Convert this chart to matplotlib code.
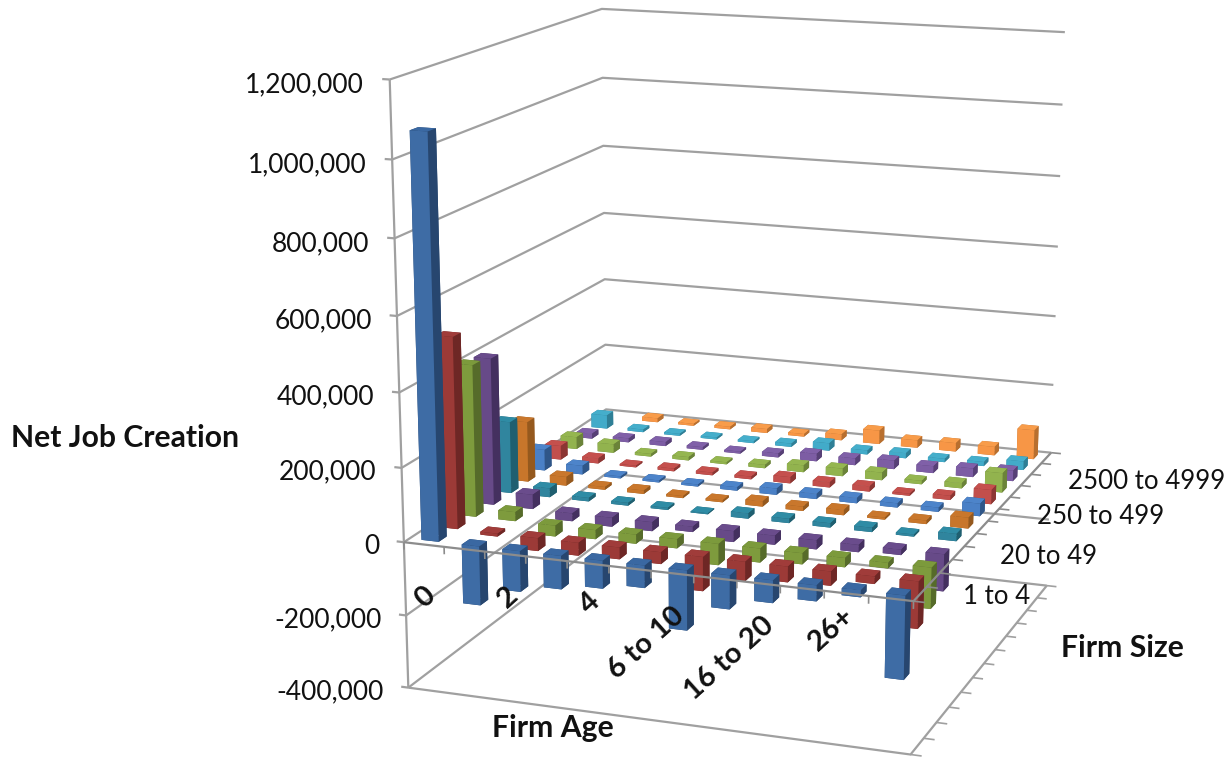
import numpy as np
import matplotlib
matplotlib.use("Agg")
import matplotlib.pyplot as plt
from mpl_toolkits.mplot3d.art3d import Line3DCollection

plt.rcParams["font.family"] = ["Lato", "DejaVu Sans"]

W, H = 1228, 757

# Net job creation in thousands; one list per firm-age class, one entry per firm-size class.
age_labels = ["0", "1", "2", "3", "4", "5", "6 to 10", "11 to 15", "16 to 20", "21 to 25", "26+", "Left censored"]
size_labels = ["1 to 4", "5 to 9", "10 to 19", "20 to 49", "50 to 99", "100 to 249", "250 to 499",
               "500 to 999", "1000 to 2499", "2500 to 4999", "5000 to 9999", "10000+"]
age_0 = [1070, 518, 415, 405, 200, 170, 60, 40, 35, 15, 40, 0]
age_1 = [-160, -8, 25, 40, 25, 25, 25, 15, 25, 12, 8, 12]
age_2 = [-110, -35, -30, -22, 10, 8, 6, 5, 8, 12, 6, 6]
age_3 = [-90, -35, -25, -25, 8, 10, 6, 8, 10, 8, 6, 8]
age_4 = [-75, -32, -25, -25, 6, 6, 6, 8, 6, 6, 6, 12]
age_5 = [-60, -32, -25, -15, 3, 6, 10, 8, 10, 12, 10, 8]
age_6 = [-160, -92, -58, -30, 15, 15, 18, 18, 20, 22, 22, 18]
age_7 = [-90, -52, -38, -25, 12, 12, 15, 15, 22, 20, 12, 40]
age_8 = [-60, -42, -30, -25, 12, 15, 15, 15, 22, 25, 15, 22]
age_9 = [-42, -38, -25, -20, 12, 6, 12, 6, 10, 20, 10, 25]
age_10 = [-18, -20, -15, -15, 6, 10, 12, 12, 15, 25, 12, 25]
age_11 = [-220, -125, -110, -100, 20, 30, 35, 40, 55, 30, 25, 85]
job_creation = np.array([age_0, age_1, age_2, age_3, age_4, age_5, age_6, age_7,
                         age_8, age_9, age_10, age_11]) * 1000.0

value_ticks = [-400000, -200000, 0, 200000, 400000, 600000, 800000, 1000000, 1200000]

# Front, right-hand and top face colours for each size class.
front_colors = ["#3E6CA5", "#9C3A37", "#7E9B3D", "#674A88", "#30859E", "#C8762B",
                "#4A80C6", "#C24F4C", "#92B34E", "#7D5DA4", "#42ABC9", "#F79646"]
side_colors = ["#27466F", "#6E2725", "#566B2A", "#44305F", "#1F5F70", "#95591E",
               "#2F5688", "#8C3633", "#6B8339", "#574076", "#2F7F96", "#B86F2F"]
top_colors = ["#3A68A2", "#A03C3A", "#7C9A3C", "#6A4C8C", "#2F8CA5", "#C9772C",
              "#4D84CA", "#C5504D", "#95B650", "#8060A8", "#45AECB", "#F89C4A"]

# Camera calibration: cube corners of the plot frame and where they land on the canvas.
n_age, n_size = len(age_labels), len(size_labels)
z_lo, z_hi = value_ticks[0], value_ticks[-1]
frame_world = np.array([
    (0, 0, z_hi), (0, 0, 0), (0, 0, z_lo),
    (0, n_size, z_hi), (0, n_size, 0), (0, n_size, z_lo),
    (n_age, n_size, z_hi), (n_age, n_size, 0), (n_age, n_size, z_lo),
    (n_age, 0, 0), (n_age, 0, z_lo)], float)
frame_canvas = np.array([
    (390, 80), (403, 543), (408, 687),
    (601, 9), (608, 408), (607, 537),
    (1065, 32), (1052, 452), (1045, 587),
    (913, 601), (912, 754)], float)


def fit_camera(world, canvas):
    scale = np.array([1.0, 1.0, 1e-5])
    rows = []
    for (x, y, z), (u, v) in zip(world * scale, canvas):
        rows.append([x, y, z, 1, 0, 0, 0, 0, -u * x, -u * y, -u * z, -u])
        rows.append([0, 0, 0, 0, x, y, z, 1, -v * x, -v * y, -v * z, -v])
    P = np.linalg.svd(np.array(rows))[2][-1].reshape(3, 4)
    P = P * np.array([1, 1, 1e-5, 1])
    reference = P[2] @ np.array([n_age / 2, n_size / 2, 0, 1])
    return P / reference


camera = fit_camera(frame_world, frame_canvas)


def to_canvas(x, y, z):
    u, v, w = camera @ np.array([x, y, z, 1.0])
    return u / w, v / w


fig = plt.figure(figsize=(W / 100, H / 100), dpi=100)
ax = fig.add_axes([0, 0, 1, 1], projection="3d", computed_zorder=False)
ax.set_axis_off()


def keep_full_panel(position=None):
    ax._set_position(ax.get_position(original=True), "active")


def camera_projection():
    # Canvas pixels (y down) converted to the 2D limits the 3D axes draws in.
    inv = ax.transData.inverted()
    (x0, y0), (x1, y1) = inv.transform([(0, 0), (W, H)])
    sx, sy = (x1 - x0) / W, (y1 - y0) / H
    u, v, w = camera
    m = np.zeros((4, 4))
    m[0] = sx * u + x0 * w
    m[1] = -sy * v + y1 * w
    m[2] = w - np.array([0, 0, 0, 0.5])
    m[3] = w
    return m


ax.apply_aspect = keep_full_panel
ax.get_proj = camera_projection

GRID = "#A0A0A0"
AXIS = "#8C8C8C"


def draw_segments(segments, color, lw, z):
    ax.add_collection3d(Line3DCollection(segments, colors=color, linewidths=lw, zorder=z, clip_on=False),
                        autolim=False)


# Value axis, side wall, back wall and their gridlines.
wall = [[(0, 0, z_lo), (0, 0, z_hi)]]
for tick in value_ticks:
    wall.append([(0, 0, tick), (0, n_size, tick), (n_age, n_size, tick)])
    wall.append([(-0.18, 0, tick), (0, 0, tick)])
# Floor outline with size-class tick marks.
wall.append([(0, 0, z_lo), (n_age, 0, z_lo), (n_age, n_size, z_lo)])
draw_segments(wall, GRID, 1.6, 1)
draw_segments([[(n_age, j, z_lo), (n_age + 0.25, j, z_lo)] for j in range(n_size + 1)], GRID, 1.2, 1)

# Bars, painted from the far corner toward the viewer.
start_age, width_age = 0.30, 0.43
start_size, width_size = 0.29, 0.42
order = 20
for j in range(n_size - 1, -1, -1):
    for i in range(n_age):
        value = job_creation[i, j]
        if value == 0:
            continue
        faces = [side_colors[j], top_colors[j], front_colors[j],
                 side_colors[j], side_colors[j], side_colors[j]]
        ax.bar3d(i + start_age, j + start_size, min(value, 0), width_age, width_size, abs(value),
                 color=faces, shade=False, linewidth=0, zorder=order, clip_on=False)
        order += 1

# The zero plane's two open edges run in front of the bars.
top = order + 1
draw_segments([[(0, 0, 0), (n_age, 0, 0), (n_age, n_size, 0)]], AXIS, 1.6, top)
draw_segments([[(i, 0, 0), (i, 0, -20000)] for i in range(n_age + 1)], AXIS, 1.2, top)
draw_segments([[(n_age, j, 0), (n_age + 0.25, j, 0)] for j in range(n_size + 1)], AXIS, 1.2, top)

ax.set_xlim(0, n_age)
ax.set_ylim(0, n_size)
ax.set_zlim(z_lo, z_hi)


def px_text(x, y, s, **kw):
    return fig.text(x / W, 1 - y / H, s, color="#111111", **kw)


for tick in value_ticks:
    x, y = to_canvas(-0.62, 0, tick)
    px_text(x, y + 7, f"{tick:,}", ha="right", va="center", fontsize=19)

# Every second age class and every third size class carry a label.
age_anchor = [(431, 592), (514, 592), (596, 598), (680, 612), (770, 622), (850, 612)]
for (x, y), s in zip(age_anchor, age_labels[::2]):
    px_text(x, y, s, rotation=42, rotation_mode="anchor", ha="right", va="center",
            fontsize=21, fontweight="bold")
size_anchor = [(963, 597), (1000, 556), (1037, 517), (1068, 482)]
for (x, y), s in zip(size_anchor, size_labels[::3]):
    px_text(x, y, s, ha="left", va="center", fontsize=18.6)

px_text(125, 438, "Net Job Creation", ha="center", va="center", fontsize=21.7, fontweight="bold")
px_text(553, 728, "Firm Age", ha="center", va="center", fontsize=21.7, fontweight="bold")
px_text(1122, 648, "Firm Size", ha="center", va="center", fontsize=21.7, fontweight="bold")

fig.savefig("out.png", dpi=100)
